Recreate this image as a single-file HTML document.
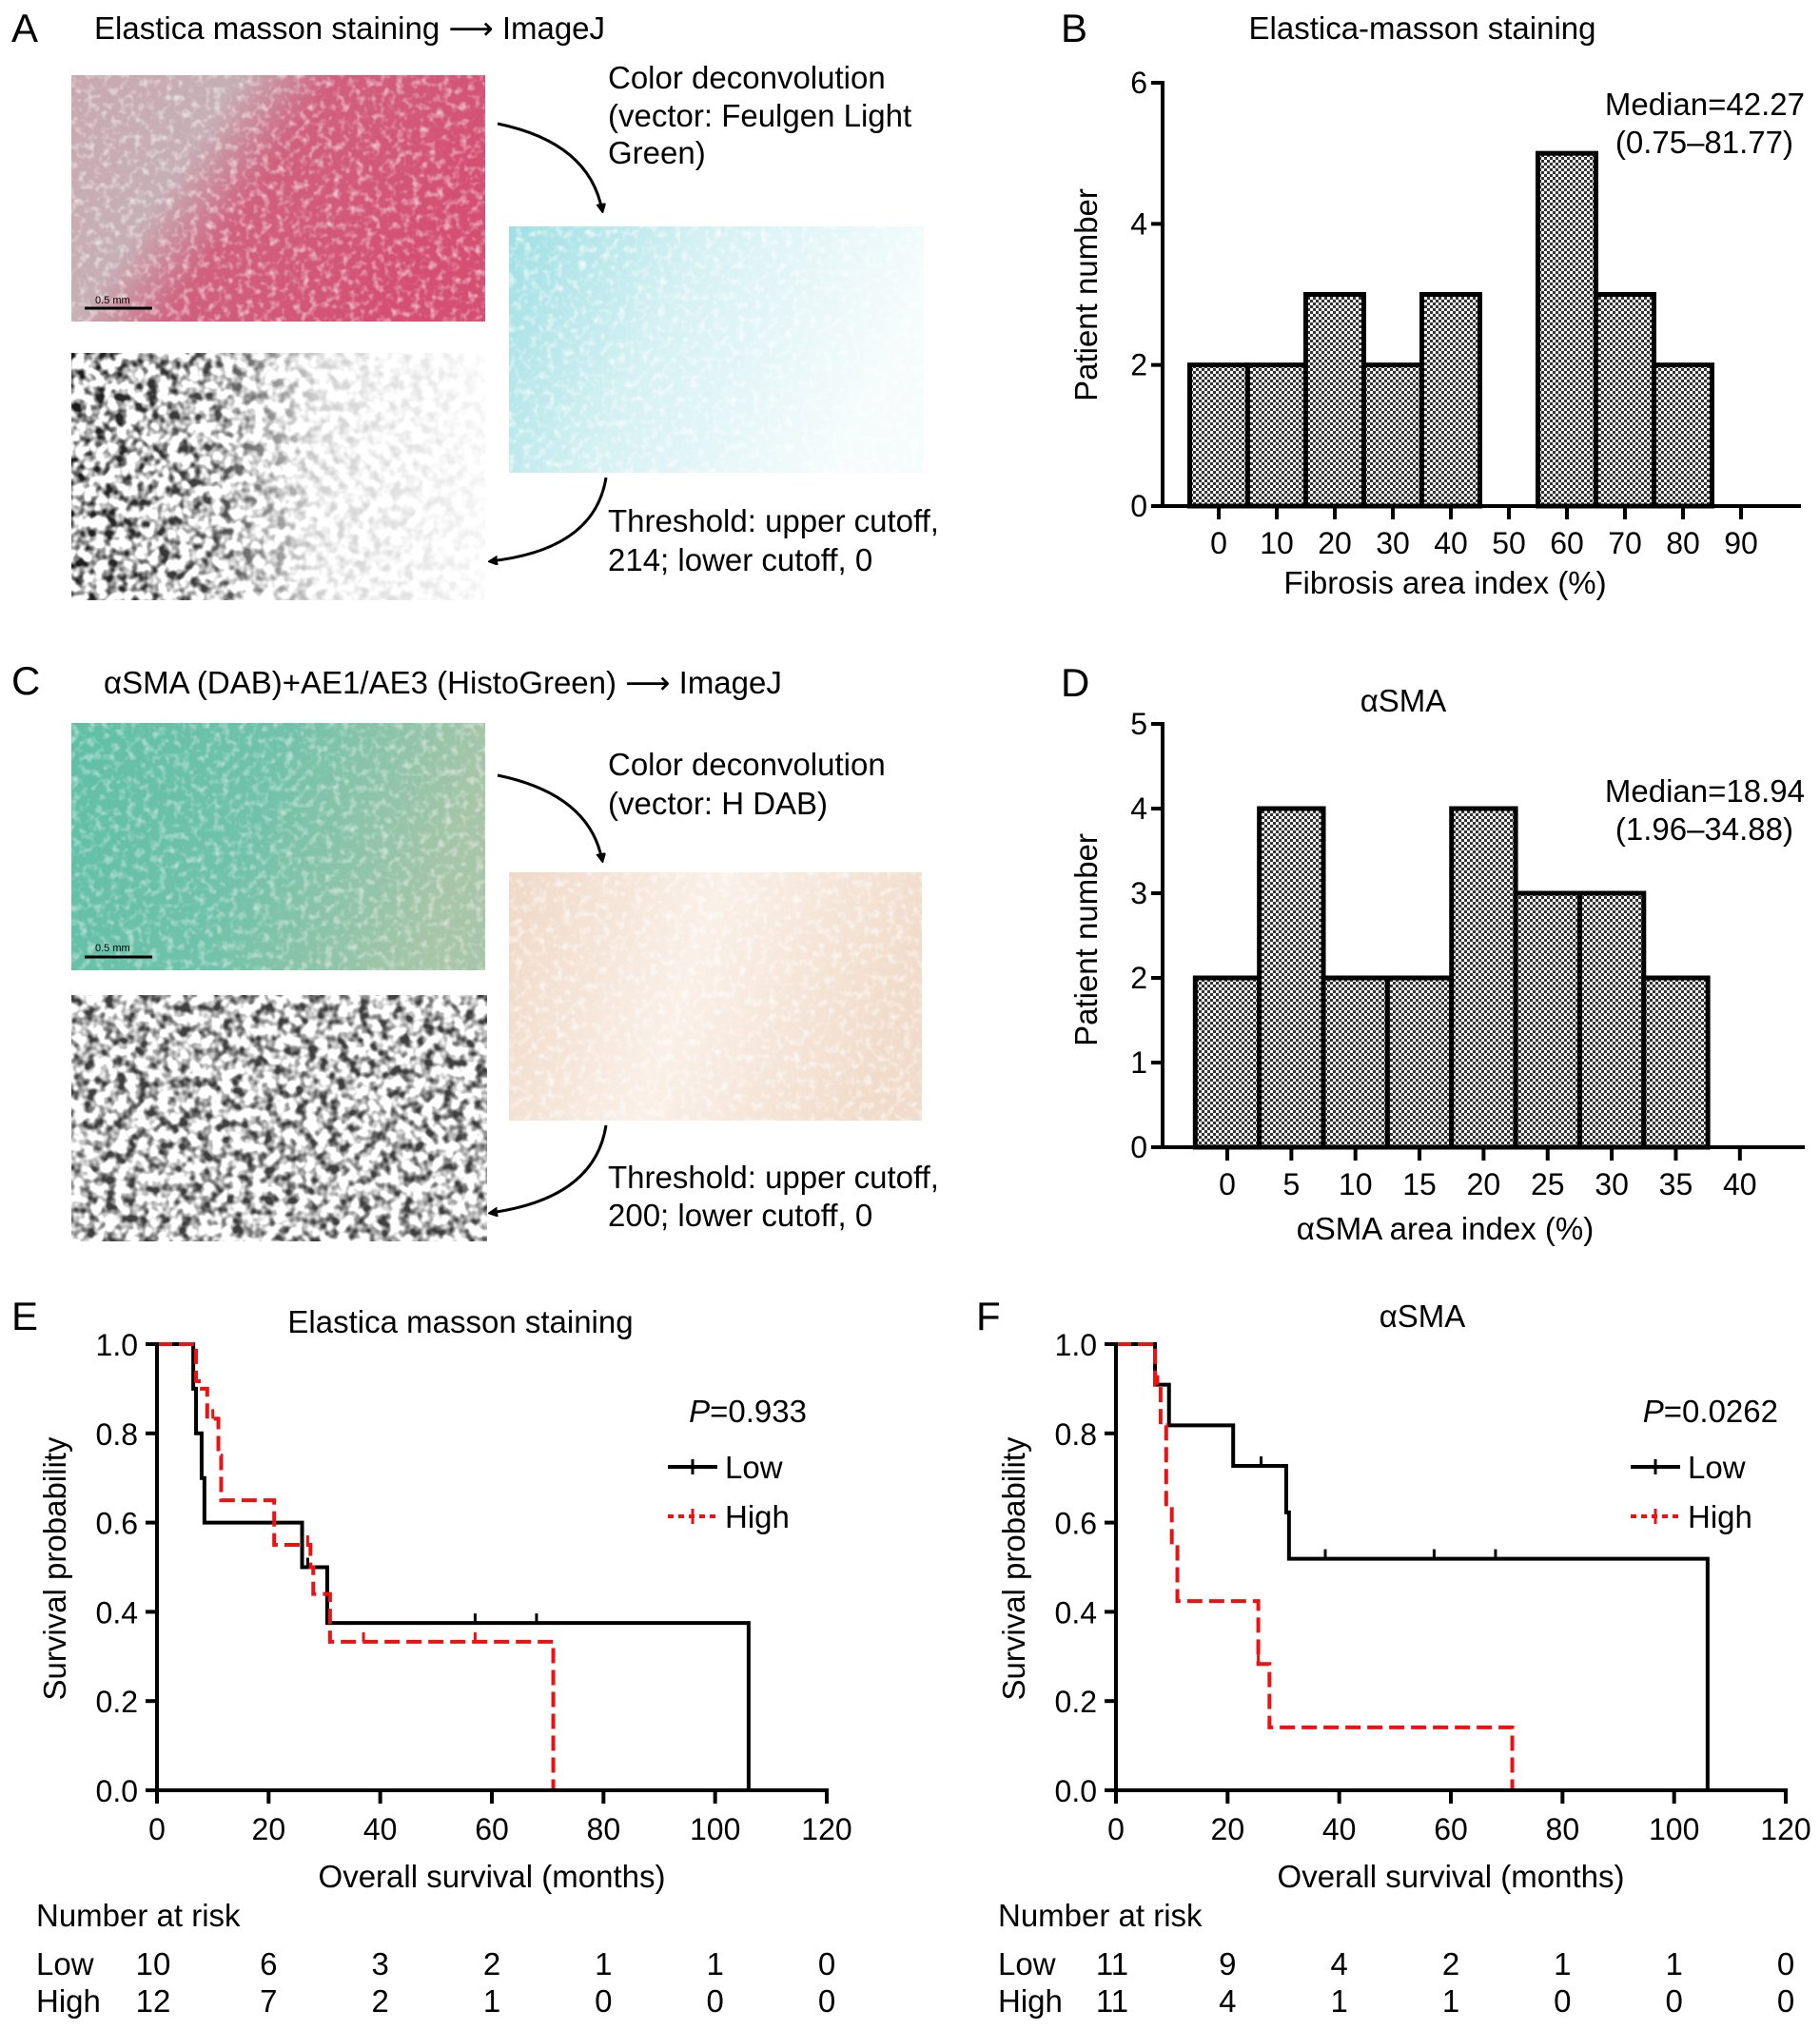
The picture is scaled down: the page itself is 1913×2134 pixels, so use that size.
<!DOCTYPE html>
<html><head><meta charset="utf-8"><style>
html,body{margin:0;padding:0;background:#fff;}
svg{display:block;font-family:"Liberation Sans",Arial,"DejaVu Sans",sans-serif;}
</style></head><body>
<svg id="fig" width="1913" height="2134" viewBox="0 0 1913 2134" xmlns="http://www.w3.org/2000/svg">
<defs>
<pattern id="hatch" width="6" height="6" patternUnits="userSpaceOnUse">
<rect width="6" height="6" fill="#fff"/><rect width="3" height="3" fill="#333"/><rect x="3" y="3" width="3" height="3" fill="#333"/>
</pattern>
<filter id="noiseBW" x="0" y="0" width="100%" height="100%">
<feTurbulence type="fractalNoise" baseFrequency="0.09" numOctaves="2" seed="3" result="n"/>
<feColorMatrix type="matrix" values="0 0 0 0 0  0 0 0 0 0  0 0 0 0 0  0 0 0 -3.2 1.9"/>
</filter>
<filter id="noiseTex" x="0" y="0" width="100%" height="100%">
<feTurbulence type="fractalNoise" baseFrequency="0.12" numOctaves="2" seed="7"/>
<feColorMatrix type="matrix" values="0 0 0 0 1  0 0 0 0 1  0 0 0 0 1  0 0 0 -2.5 1.3"/>
</filter>
<linearGradient id="pinkG" x1="0" y1="0" x2="1" y2="0.4">
<stop offset="0" stop-color="#c8a8b0"/><stop offset="0.35" stop-color="#c6b0b5"/><stop offset="0.55" stop-color="#d0607e"/><stop offset="1" stop-color="#d44f72"/>
</linearGradient>
<linearGradient id="cyanG" x1="0" y1="0" x2="1" y2="0.3">
<stop offset="0" stop-color="#9edfe4"/><stop offset="0.45" stop-color="#d6f1f3"/><stop offset="1" stop-color="#f6fcfc"/>
</linearGradient>
<linearGradient id="greenG" x1="0" y1="0" x2="1" y2="0.2">
<stop offset="0" stop-color="#5fbfa5"/><stop offset="0.5" stop-color="#71c2aa"/><stop offset="1" stop-color="#a7c5a8"/>
</linearGradient>
<linearGradient id="peachG" x1="0" y1="0" x2="1" y2="0.2">
<stop offset="0" stop-color="#efd8c6"/><stop offset="0.5" stop-color="#faf0e8"/><stop offset="1" stop-color="#f1dccb"/>
</linearGradient>
<linearGradient id="fadeA" x1="0" y1="0" x2="1" y2="0">
<stop offset="0" stop-color="#fff" stop-opacity="1"/><stop offset="0.35" stop-color="#fff" stop-opacity="0.8"/><stop offset="0.6" stop-color="#fff" stop-opacity="0.2"/><stop offset="1" stop-color="#fff" stop-opacity="0.05"/>
</linearGradient>
<mask id="maskA"><rect x="75" y="371" width="435" height="260" fill="url(#fadeA)"/></mask>
<marker id="arr" markerWidth="10" markerHeight="10" refX="8" refY="5" orient="auto" markerUnits="userSpaceOnUse"><path d="M0,0 L10,5 L0,10 L3,5 Z" fill="#000" transform="scale(1.6) translate(-3,-2)"/></marker>
</defs>

<!-- Panel A -->
<text x="12" y="44" font-size="42">A</text>
<text x="99" y="41" font-size="33">Elastica masson staining ⟶ ImageJ</text>
<g>
<rect x="75" y="79" width="435" height="259" fill="url(#pinkG)"/>
<rect x="75" y="79" width="435" height="259" filter="url(#noiseTex)" opacity="0.6"/>
<line x1="89" y1="324" x2="160" y2="324" stroke="#000" stroke-width="3"/>
<text x="100" y="319" font-size="11">0.5 mm</text>
</g>
<g>
<rect x="535" y="238" width="436" height="259" fill="url(#cyanG)"/>
<rect x="535" y="238" width="436" height="259" filter="url(#noiseTex)" opacity="0.7"/>
</g>
<g>
<rect x="75" y="371" width="435" height="260" fill="#fff"/>
<g mask="url(#maskA)"><rect x="75" y="371" width="435" height="260" filter="url(#noiseBW)" opacity="0.9"/></g>
</g>
<path d="M523,130 Q620,150 633,222" fill="none" stroke="#000" stroke-width="3" marker-end="url(#arr)"/>
<path d="M637,502 Q625,578 515,590" fill="none" stroke="#000" stroke-width="3" marker-end="url(#arr)"/>
<g font-size="33">
<text x="639" y="93">Color deconvolution</text>
<text x="639" y="133">(vector: Feulgen Light</text>
<text x="639" y="172">Green)</text>
</g>
<g font-size="33">
<text x="639" y="559">Threshold: upper cutoff,</text>
<text x="639" y="600">214; lower cutoff, 0</text>
</g>

<!-- Panel C -->
<text x="12" y="730" font-size="42">C</text>
<text x="109" y="729" font-size="33">αSMA (DAB)+AE1/AE3 (HistoGreen)  ⟶ ImageJ</text>
<g>
<rect x="75" y="760" width="435" height="260" fill="url(#greenG)"/>
<rect x="75" y="760" width="435" height="260" filter="url(#noiseTex)" opacity="0.5"/>
<line x1="89" y1="1006" x2="160" y2="1006" stroke="#000" stroke-width="3"/>
<text x="100" y="1000" font-size="11">0.5 mm</text>
</g>
<g>
<rect x="535" y="917" width="434" height="261" fill="url(#peachG)"/>
<rect x="535" y="917" width="434" height="261" filter="url(#noiseTex)" opacity="0.7"/>
</g>
<g>
<rect x="75" y="1046" width="437" height="259" fill="#fff"/>
<rect x="75" y="1046" width="437" height="259" filter="url(#noiseBW)" opacity="0.75"/>
</g>
<path d="M523,815 Q620,835 633,905" fill="none" stroke="#000" stroke-width="3" marker-end="url(#arr)"/>
<path d="M637,1183 Q625,1260 515,1275" fill="none" stroke="#000" stroke-width="3" marker-end="url(#arr)"/>
<g font-size="33">
<text x="639" y="815">Color deconvolution</text>
<text x="639" y="856">(vector: H DAB)</text>
</g>
<g font-size="33">
<text x="639" y="1249">Threshold: upper cutoff,</text>
<text x="639" y="1289">200; lower cutoff, 0</text>
</g>

<g id="chartB"></g>
<g id="chartD"></g>
<g id="chartE"></g>
<g id="chartF"></g>
</svg>
<script>
// ---- Histogram B data ----
const bCategories = [0,10,20,30,40,50,60,70,80,90];
const bCounts = [2,2,3,2,3,0,5,3,2,0];
const bYTicks = [0,2,4,6];
// ---- Histogram D data ----
const dCategories = [0,5,10,15,20,25,30,35,40];
const dCounts = [2,4,2,2,4,3,3,2,0];
const dYTicks = [0,1,2,3,4,5];
// ---- KM E data ----
const eLowTimes = [0,6.5,7,8,8.5,26,30.5,106];
const eLowSurv = [1,0.9,0.8,0.7,0.6,0.5,0.375,0];
const eLowCensor = [27,57,68];
const eHighTimes = [0,7,7.5,9,11,11.5,21,27.5,28,31,71];
const eHighSurv = [1,0.917,0.9,0.833,0.75,0.65,0.55,0.5,0.44,0.333,0];
const eHighCensor = [10,27,37,57];
const eRiskLow = [10,6,3,2,1,1,0];
const eRiskHigh = [12,7,2,1,0,0,0];
// ---- KM F data ----
const fLowTimes = [0,7,9.5,21,30.5,31,106];
const fLowSurv = [1,0.909,0.818,0.727,0.623,0.519,0];
const fLowCensor = [26,37.5,57,68];
const fHighTimes = [0,7,8,9,10,11,25.5,27.5,71];
const fHighSurv = [1,0.909,0.818,0.636,0.545,0.424,0.283,0.141,0];
const fHighCensor = [7.5,25.5];
const fRiskLow = [11,9,4,2,1,1,0];
const fRiskHigh = [11,4,1,1,0,0,0];
const kmXTicks = [0,20,40,60,80,100,120];
const kmYTicks = [0,0.2,0.4,0.6,0.8,1.0];

const NS='http://www.w3.org/2000/svg';
function mk(parent,tag,attrs,txt){const e=document.createElementNS(NS,tag);for(const k in attrs)e.setAttribute(k,attrs[k]);if(txt!==undefined)e.textContent=txt;parent.appendChild(e);return e;}

function histogram(g,o){
  const sx=v=>o.x0+(v-o.cats[0])*o.px;
  const sy=v=>o.y0-(v/o.ymax)*(o.y0-o.ytop);
  const step=o.cats[1]-o.cats[0];
  o.counts.forEach((c,i)=>{ if(c<=0) return;
    const r=mk(g,'rect',{x:sx(o.cats[i]-step/2),y:sy(c),width:step*o.px,height:o.y0-sy(c),fill:'url(#hatch)',stroke:'#000','stroke-width':5});
    
    
  });
  mk(g,'line',{x1:o.ax,y1:o.ytop-2,x2:o.ax,y2:o.y0,stroke:'#000','stroke-width':4});
  mk(g,'line',{x1:o.ax-10,y1:o.y0,x2:o.xend,y2:o.y0,stroke:'#000','stroke-width':4});
  o.yticks.forEach(t=>{mk(g,'line',{x1:o.ax-12,y1:sy(t),x2:o.ax,y2:sy(t),stroke:'#000','stroke-width':4});
    const tx=mk(g,'text',{x:o.ax-16,y:sy(t)+11,'font-size':32,'text-anchor':'end'},t);
    
    });
  o.cats.forEach(c=>{mk(g,'line',{x1:sx(c),y1:o.y0,x2:sx(c),y2:o.y0+14,stroke:'#000','stroke-width':4});
    const tx=mk(g,'text',{x:sx(c),y:o.y0+50,'font-size':32,'text-anchor':'middle'},c);
    
    });
}

const gB=document.getElementById('chartB');
mk(gB,'text',{x:1115,y:44,'font-size':42},'B');
mk(gB,'text',{x:1495,y:41,'font-size':33,'text-anchor':'middle'},'Elastica-masson staining');
histogram(gB,{cats:bCategories,counts:bCounts,yticks:bYTicks,ymax:6,x0:1281,px:6.1,y0:532,ytop:87,ax:1222,xend:1893});
mk(gB,'text',{x:1897,y:121,'font-size':33,'text-anchor':'end'},'Median=42.27');
mk(gB,'text',{x:1885,y:161,'font-size':33,'text-anchor':'end'},'(0.75–81.77)');
mk(gB,'text',{x:0,y:0,'font-size':33,'text-anchor':'middle',transform:'translate(1153,310) rotate(-90)'},'Patient number');
mk(gB,'text',{x:1519,y:624,'font-size':33,'text-anchor':'middle'},'Fibrosis area index (%)');

const gD=document.getElementById('chartD');
mk(gD,'text',{x:1115,y:732,'font-size':42},'D');
mk(gD,'text',{x:1475,y:748,'font-size':33,'text-anchor':'middle'},'αSMA');
histogram(gD,{cats:dCategories,counts:dCounts,yticks:dYTicks,ymax:5,x0:1290,px:13.47,y0:1206,ytop:761,ax:1222,xend:1897});
mk(gD,'text',{x:1897,y:843,'font-size':33,'text-anchor':'end'},'Median=18.94');
mk(gD,'text',{x:1885,y:883,'font-size':33,'text-anchor':'end'},'(1.96–34.88)');
mk(gD,'text',{x:0,y:0,'font-size':33,'text-anchor':'middle',transform:'translate(1153,988) rotate(-90)'},'Patient number');
mk(gD,'text',{x:1519,y:1303,'font-size':33,'text-anchor':'middle'},'αSMA area index (%)');

function km(g,o){
  const sx=v=>o.x0+v/120*(o.x1-o.x0);
  const sy=v=>o.y0-v*(o.y0-o.y1);
  function path(times,surv){let d='M'+sx(times[0])+','+sy(surv[0]);
    for(let i=1;i<times.length;i++){d+=' H'+sx(times[i])+' V'+sy(surv[i]);} return d;}
  function survAt(times,surv,t){let s=surv[0];for(let i=0;i<times.length;i++){if(times[i]<=t)s=surv[i];}return s;}
  const pl=mk(g,'path',{d:path(o.lowT,o.lowS),fill:'none',stroke:'#000','stroke-width':4});
  
  
  const ph=mk(g,'path',{d:path(o.highT,o.highS),fill:'none',stroke:'#ee1111','stroke-width':4,'stroke-dasharray':'16,7'});
  
  
  o.lowC.forEach(t=>{const y=sy(survAt(o.lowT,o.lowS,t));mk(g,'line',{x1:sx(t),y1:y-10,x2:sx(t),y2:y,stroke:'#000','stroke-width':3});});
  o.highC.forEach(t=>{const y=sy(survAt(o.highT,o.highS,t));mk(g,'line',{x1:sx(t),y1:y-10,x2:sx(t),y2:y,stroke:'#ee1111','stroke-width':3});});
  mk(g,'line',{x1:o.x0,y1:o.y1-2,x2:o.x0,y2:o.y0,stroke:'#000','stroke-width':4});
  mk(g,'line',{x1:o.x0,y1:o.y0,x2:o.x1+2,y2:o.y0,stroke:'#000','stroke-width':4});
  kmYTicks.forEach(t=>{mk(g,'line',{x1:o.x0-12,y1:sy(t),x2:o.x0,y2:sy(t),stroke:'#000','stroke-width':4});
    const tx=mk(g,'text',{x:o.x0-20,y:sy(t)+12,'font-size':32,'text-anchor':'end'},t.toFixed(1));
    
    });
  kmXTicks.forEach((t,i)=>{mk(g,'line',{x1:sx(t),y1:o.y0,x2:sx(t),y2:o.y0+14,stroke:'#000','stroke-width':4});
    const tx=mk(g,'text',{x:sx(t),y:o.y0+52,'font-size':32,'text-anchor':'middle'},t);
    
    
    const a=mk(g,'text',{x:sx(t)+(i==0?-4:0),y:2076,'font-size':33,'text-anchor':'middle'},o.riskLow[i]);
    
    
    const b=mk(g,'text',{x:sx(t)+(i==0?-4:0),y:2115,'font-size':33,'text-anchor':'middle'},o.riskHigh[i]);
    
    });
  mk(g,'text',{x:0,y:0,'font-size':33,'text-anchor':'middle',transform:'translate('+(o.x0-96)+',1649) rotate(-90)'},'Survival probability');
  mk(g,'text',{x:(o.x0+o.x1)/2,y:1984,'font-size':33,'text-anchor':'middle'},'Overall survival (months)');
  mk(g,'text',{x:o.lx,y:2025,'font-size':33},'Number at risk');
  mk(g,'text',{x:o.lx,y:2076,'font-size':33},'Low');
  mk(g,'text',{x:o.lx,y:2115,'font-size':33},'High');
  const p=mk(g,'text',{x:o.px,y:1495,'font-size':33,'text-anchor':'end'});
  mk(p,'tspan',{'font-style':'italic'},'P');mk(p,'tspan',{},'='+o.p);
  mk(g,'line',{x1:o.legx,y1:1542,x2:o.legx+52,y2:1542,stroke:'#000','stroke-width':4});
  mk(g,'line',{x1:o.legx+26,y1:1534,x2:o.legx+26,y2:1550,stroke:'#000','stroke-width':3});
  mk(g,'text',{x:o.legx+60,y:1554,'font-size':33},'Low');
  mk(g,'line',{x1:o.legx,y1:1594,x2:o.legx+52,y2:1594,stroke:'#ee1111','stroke-width':4,'stroke-dasharray':'6,5'});
  mk(g,'line',{x1:o.legx+26,y1:1586,x2:o.legx+26,y2:1602,stroke:'#ee1111','stroke-width':3});
  mk(g,'text',{x:o.legx+60,y:1606,'font-size':33},'High');
}
const gE=document.getElementById('chartE');
mk(gE,'text',{x:12,y:1398,'font-size':42},'E');
mk(gE,'text',{x:484,y:1401,'font-size':33,'text-anchor':'middle'},'Elastica masson staining');
km(gE,{x0:165,x1:869,y0:1882,y1:1413,lowT:eLowTimes,lowS:eLowSurv,lowC:eLowCensor,highT:eHighTimes,highS:eHighSurv,highC:eHighCensor,riskLow:eRiskLow,riskHigh:eRiskHigh,lx:38,px:848,p:'0.933',legx:702});
const gF=document.getElementById('chartF');
mk(gF,'text',{x:1026,y:1398,'font-size':42},'F');
mk(gF,'text',{x:1495,y:1395,'font-size':33,'text-anchor':'middle'},'αSMA');
km(gF,{x0:1173,x1:1877,y0:1882,y1:1413,lowT:fLowTimes,lowS:fLowSurv,lowC:fLowCensor,highT:fHighTimes,highS:fHighSurv,highC:fHighCensor,riskLow:fRiskLow,riskHigh:fRiskHigh,lx:1049,px:1869,p:'0.0262',legx:1714});
</script>
</body></html>
